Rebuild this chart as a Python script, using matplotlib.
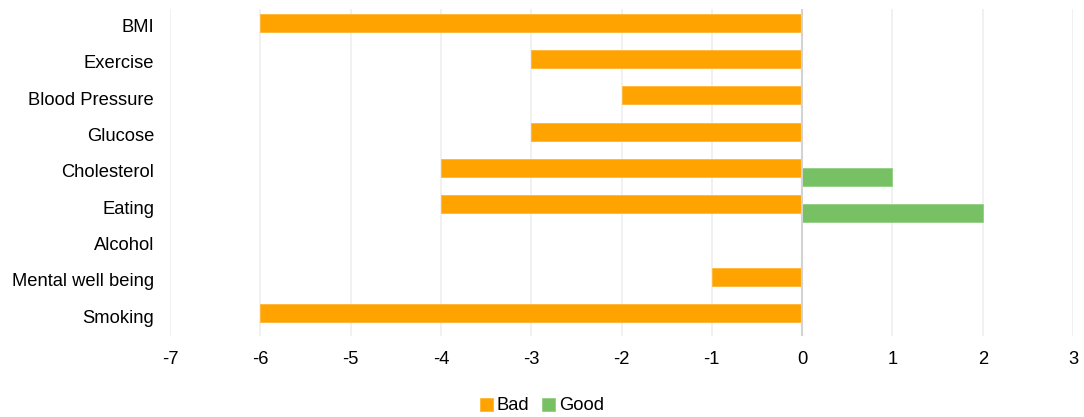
import matplotlib
matplotlib.use("Agg")
import matplotlib.pyplot as plt
import numpy as np

categories = ["BMI", "Exercise", "Blood Pressure", "Glucose", "Cholesterol",
              "Eating", "Alcohol", "Mental well being", "Smoking"]
bad = [-6, -3, -2, -3, -4, -4, 0, -1, -6]
good = [0, 0, 0, 0, 1, 2, 0, 0, 0]
xticks = [-7, -6, -5, -4, -3, -2, -1, 0, 1, 2, 3]

plt.rcParams['font.family'] = ['Liberation Sans', 'DejaVu Sans']
FS = 13.2

fig = plt.figure(figsize=(10.84, 4.17), dpi=100)
ax = fig.add_axes([170/1084, 1 - 336/417, (1073 - 170)/1084, (336 - 9)/417])

y = np.arange(len(categories))
h = 0.495
off = 0.124
ax.barh(y - off, bad, height=h, color="#FFA300", edgecolor="#FFB533", linewidth=0.6,
        label="Bad", zorder=3)
ax.barh(y + off, good, height=h, color="#77C063", edgecolor="#92CF82", linewidth=0.6,
        label="Good", zorder=3)

ax.set_xlim(-7, 3)
ax.set_ylim(len(categories) - 0.5, -0.5)
ax.set_xticks(xticks)
ax.set_xticklabels([str(t) for t in xticks])
ax.set_yticks(y - 0.05)
ax.set_yticklabels(categories)
ax.tick_params(axis='both', length=0, labelsize=FS, colors="#000000")
ax.tick_params(axis='x', pad=11)
ax.tick_params(axis='y', pad=11.5)

for s in ax.spines.values():
    s.set_visible(False)
ax.grid(axis='x', color="#EFEFEF", linewidth=1.2, zorder=0)
ax.axvline(0, color="#D3D3D3", linewidth=1.5, zorder=4)

leg = fig.legend(loc='center', bbox_to_anchor=(0.5, 1 - 406/417), ncol=2, frameon=False,
                 fontsize=FS, handlelength=0.7, handleheight=0.7, handletextpad=0.2,
                 columnspacing=0.7, borderpad=0)

fig.savefig("out.png", dpi=100)
